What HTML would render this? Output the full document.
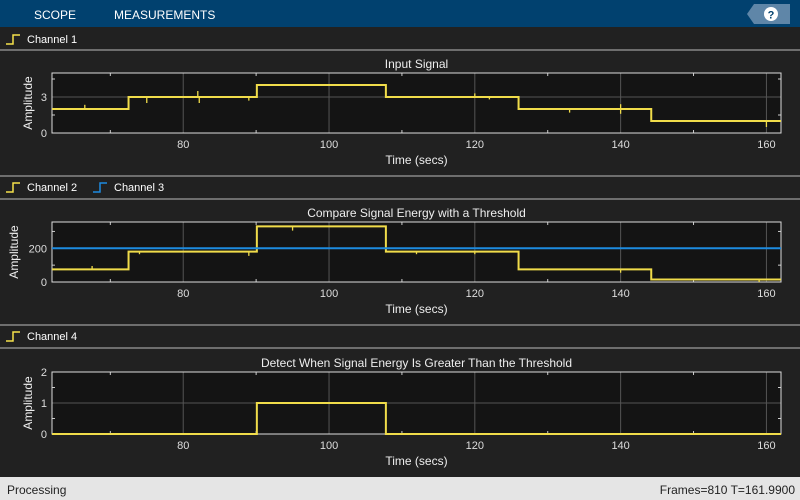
<!DOCTYPE html>
<html><head><meta charset="utf-8"><style>
body{margin:0;width:800px;height:500px;overflow:hidden;background:#212121;font-family:"Liberation Sans",sans-serif}
svg{display:block}
</style></head><body>
<svg id="s" width="800" height="500">
<rect x="0" y="0" width="800" height="27" fill="#01416f"/>
<text x="34" y="19" fill="#fff" font-size="12">SCOPE</text>
<text x="114" y="19" fill="#fff" font-size="12">MEASUREMENTS</text>
<polygon points="754,4 790,4 790,24 754,24 747,14" fill="#5f86a8"/>
<circle cx="771" cy="14" r="7" fill="#fff"/>
<text x="771" y="18.5" fill="#01416f" font-size="11" font-weight="bold" text-anchor="middle">?</text>
<rect x="0" y="477" width="800" height="23" fill="#e5e5e5"/>
<text x="7" y="494" fill="#222" font-size="12">Processing</text>
<text x="795" y="494" fill="#222" font-size="12" text-anchor="end">Frames=810  T=161.9900</text>
</svg>
<script>
const xMin=62,xMax=162;
const xTicks=[80,100,120,140,160];
const ch1Steps=[62,72.5,90.1,107.8,126,144.2,162];
const ch1Levels=[2,3,4,3,2,1];
const ch2Levels=[75,180,330,180,75,15];
const ch3Value=200;
const ch4Steps=[62,90.1,107.8,162];
const ch4Levels=[0,1,0];
const ch1Spikes=[[66.5,0.35],[75,-0.5],[82,0.5],[82.2,-0.5],[89,-0.3],[120,0.3],[122,-0.2],[133,-0.3],[140,0.4],[140,-0.4],[160,-0.5]];
const ch2Spikes=[[67.5,20],[72.5,-10],[74,-15],[89,-25],[95,-25],[112,-15],[120,-15],[140,-20],[159,-15]];
const yTicks1=[0,3],yMinor1=[1.5,4.5];
const yTicks2=[0,200],yMinor2=[100,300];
const yTicks3=[0,1,2],yMinor3=[0.5,1.5];
const NS="http://www.w3.org/2000/svg";
const svg=document.getElementById('s');
function el(t,a,p){const e=document.createElementNS(NS,t);for(const k in a)e.setAttribute(k,a[k]);(p||svg).appendChild(e);return e;}
const L=52,R=781;
const X=v=>L+(v-xMin)/(xMax-xMin)*(R-L);
function legend(y,items,sepTop,sepBot){
  if(sepTop!=null){const s=el('line',{x1:0,x2:800,y1:sepTop,y2:sepTop,stroke:'#bbb','stroke-width':1});}
  const s2=el('line',{x1:0,x2:800,y1:sepBot,y2:sepBot,stroke:'#bbb','stroke-width':1});
  
  let x=6;
  items.forEach(([name,c])=>{
    const g=el('g',{});
    
    
    el('polyline',{points:`${x},${y+5} ${x+7},${y+5} ${x+7},${y-4} ${x+14},${y-4}`,fill:'none',stroke:c,'stroke-width':1.5},g);
    const t=el('text',{x:x+21,y:y+4,fill:'#fff','font-size':11},g);t.textContent=name;
    x+=87;
  });
}
function panel(top,bot,yMax,title,ticks,minor,yname,ylx){
  const Y=v=>bot-(v/yMax)*(bot-top);
  const g=el('g',{});
  
  
  el('rect',{x:L,y:top,width:R-L,height:bot-top,fill:'#141414'},g);
  xTicks.forEach(v=>{el('line',{x1:X(v),x2:X(v),y1:top,y2:bot,stroke:'#555'},g);
    const t=el('text',{x:X(v),y:bot+15,fill:'#ddd','font-size':11,'text-anchor':'middle'},g);t.textContent=v;
    });
  [70,90,110,130,150].forEach(v=>{el('line',{x1:X(v),x2:X(v),y1:top,y2:top+3,stroke:'#ccc'},g);el('line',{x1:X(v),x2:X(v),y1:bot,y2:bot-3,stroke:'#ccc'},g);});
  ticks.forEach(v=>{if(v>0&&v<yMax)el('line',{x1:L,x2:R,y1:Y(v),y2:Y(v),stroke:'#555'},g);
    const t=el('text',{x:L-5,y:Y(v)+4,fill:'#ddd','font-size':11,'text-anchor':'end'},g);t.textContent=v;
    });
  minor.forEach(v=>{el('line',{x1:L,x2:L+3,y1:Y(v),y2:Y(v),stroke:'#ccc'},g);el('line',{x1:R,x2:R-3,y1:Y(v),y2:Y(v),stroke:'#ccc'},g);});
  el('rect',{x:L,y:top,width:R-L,height:bot-top,fill:'none',stroke:'#ddd'},g);
  const tt=el('text',{x:(L+R)/2,y:top-5,fill:'#eee','font-size':12,'text-anchor':'middle'},g);tt.textContent=title;
  
  const xl=el('text',{x:(L+R)/2,y:bot+31,fill:'#eee','font-size':12,'text-anchor':'middle'},g);xl.textContent='Time (secs)';
  
  const cy=(top+bot)/2;
  const yl=el('text',{x:ylx,y:cy,fill:'#eee','font-size':12,'text-anchor':'middle',transform:`rotate(-90 ${ylx} ${cy})`},g);yl.textContent='Amplitude';
  
  return Y;
}
function steps(Y,st,lv,color,spikes,name){
  let p=[];
  for(let i=0;i<lv.length;i++){p.push(`${X(st[i])},${Y(lv[i])}`);p.push(`${X(st[i+1])},${Y(lv[i])}`);}
  const pl=el('polyline',{points:p.join(' '),fill:'none',stroke:color,'stroke-width':2});
  
  
  (spikes||[]).forEach(([t,d])=>{
    let i=0;while(i<lv.length-1&&t>=st[i+1])i++;
    const sl=el('line',{x1:X(t),x2:X(t),y1:Y(lv[i]),y2:Y(lv[i]+d),stroke:color,'stroke-width':1.3});
    
    
  });
}
legend(39,[['Channel 1','#f5e14a']],null,50);
const Y1=panel(73,133,5,'Input Signal',yTicks1,yMinor1,'input-signal-plot',32);
steps(Y1,ch1Steps,ch1Levels,'#f0dc4a',ch1Spikes,'channel-1-line');
legend(187,[['Channel 2','#f5e14a'],['Channel 3','#1d8be0']],176,199);
const Y2=panel(222,282,356,'Compare Signal Energy with a Threshold',yTicks2,yMinor2,'energy-plot',18);
steps(Y2,ch1Steps,ch2Levels,'#f0dc4a',ch2Spikes,'channel-2-line');
const th=el('line',{x1:L,x2:R,y1:Y2(ch3Value),y2:Y2(ch3Value),stroke:'#1d8be0','stroke-width':2});


legend(336,[['Channel 4','#f5e14a']],325,348);
const Y3=panel(372,434,2,'Detect When Signal Energy Is Greater Than the Threshold',yTicks3,yMinor3,'detect-plot',32);
steps(Y3,ch4Steps,ch4Levels,'#f0dc4a',[],'channel-4-line');
</script>
</body></html>
